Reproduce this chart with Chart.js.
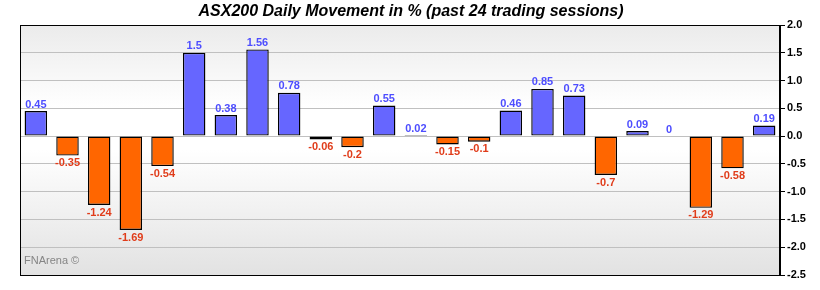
<!DOCTYPE html>
<html lang="en">
<head>
    <meta charset="UTF-8">
    <title>ASX200 Daily Movement</title>
    <script src="https://cdn.jsdelivr.net/npm/chart.js"></script>
    <style>
        body { margin: 0; padding: 0; background: #fff; }
        #wrap { width: 820px; height: 290px; position: relative; }
    </style>
</head>
<body>
    <div id="wrap"><canvas id="asxChart" width="820" height="290"></canvas></div>

    <script>
        // values, one per trading session
        const sessions = ['1','2','3','4','5','6','7','8','9','10','11','12','13','14','15','16','17','18','19','20','21','22','23','24'];
        const movement = [0.45, -0.35, -1.24, -1.69, -0.54, 1.5, 0.38, 1.56, 0.78, -0.06, -0.2, 0.55,
                          0.02, -0.15, -0.1, 0.46, 0.85, 0.73, -0.7, 0.09, 0, -1.29, -0.58, 0.19];
        const yMin = -2.5, yMax = 2.0, yStep = 0.5;

        const chartTitle = 'ASX200 Daily Movement in % (past 24 trading sessions)';
        const watermark = 'FNArena \u00A9';

        // background gradient + frame + title + value labels
        const decor = {
            id: 'decor',
            beforeDraw(chart) {
                const { ctx, chartArea: a } = chart;
                const g = ctx.createLinearGradient(0, a.top, 0, a.bottom);
                g.addColorStop(0, '#ebebeb');
                g.addColorStop(0.33, '#ffffff');
                g.addColorStop(0.5, '#ffffff');
                g.addColorStop(1, '#e2e2e2');
                ctx.save();
                ctx.fillStyle = g;
                ctx.fillRect(a.left, a.top, a.right - a.left, a.bottom - a.top);
                ctx.restore();
            },
            beforeDatasetsDraw(chart) {
                const { ctx, chartArea: a } = chart;
                ctx.save();
                ctx.fillStyle = '#858585';
                ctx.font = '11px "Liberation Sans", Arial, sans-serif';
                ctx.textBaseline = 'alphabetic';
                ctx.fillText(watermark, a.left + 4, a.bottom - 11);
                ctx.strokeStyle = '#000';
                ctx.lineWidth = 1;
                ctx.strokeRect(a.left + 0.5, a.top + 0.5, a.right - a.left - 1, a.bottom - a.top);
                ctx.restore();
            },
            afterDatasetsDraw(chart) {
                const { ctx } = chart;
                const meta = chart.getDatasetMeta(0);
                ctx.save();
                ctx.font = 'bold 11px "Liberation Sans", Arial, sans-serif';
                ctx.textAlign = 'center';
                meta.data.forEach((bar, i) => {
                    const v = movement[i];
                    if (v >= 0) {
                        ctx.fillStyle = '#4d4dff';
                        ctx.textBaseline = 'bottom';
                        ctx.fillText(String(v), bar.x, bar.y - 1);
                    } else {
                        ctx.fillStyle = '#e03c1a';
                        ctx.textBaseline = 'top';
                        ctx.fillText(String(v), bar.x, bar.y + 2);
                    }
                });
                // title
                ctx.fillStyle = '#000';
                ctx.font = 'italic bold 16px "Liberation Sans", Arial, sans-serif';
                ctx.textBaseline = 'middle';
                ctx.fillText(chartTitle, 411, 12);
                ctx.restore();
            }
        };

        new Chart(document.getElementById('asxChart'), {
            type: 'bar',
            data: {
                labels: sessions,
                datasets: [{
                    data: movement,
                    backgroundColor: movement.map(v => v >= 0 ? '#6666ff' : '#ff6600'),
                    borderColor: '#000000',
                    borderWidth: 1.4,
                    borderSkipped: false,
                    categoryPercentage: 0.71,
                    barPercentage: 1.0
                }]
            },
            options: {
                responsive: false,
                animation: false,
                devicePixelRatio: 1,
                layout: { padding: { left: 20, top: 25, right: 0, bottom: 15 } },
                plugins: {
                    legend: { display: false },
                    title: { display: false },
                    tooltip: { enabled: false }
                },
                scales: {
                    x: { display: false },
                    y: {
                        position: 'right',
                        min: yMin,
                        max: yMax,
                        afterFit(scale) { scale.width = 40; },
                        ticks: {
                            stepSize: yStep,
                            color: '#000',
                            padding: 2,
                            font: { family: '"Liberation Sans", Arial, sans-serif', size: 11, weight: 'bold' },
                            callback: v => Number(v).toFixed(1)
                        },
                        grid: {
                            color: '#c0c0c0',
                            tickColor: '#000',
                            tickLength: 5,
                            drawOnChartArea: true
                        },
                        border: { display: true, color: '#000' }
                    }
                }
            },
            plugins: [decor]
        });
    </script>
</body>
</html>
